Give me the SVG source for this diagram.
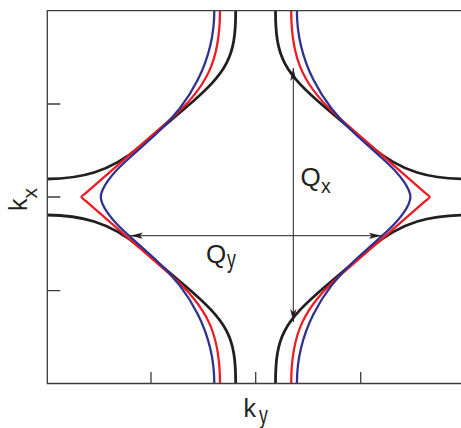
<svg xmlns="http://www.w3.org/2000/svg" width="461" height="428" viewBox="0 0 461 428">
<style>
.frame{fill:none;stroke:#3c3c3c;stroke-width:1.3}
.curve{fill:none;stroke-linejoin:round;stroke-linecap:butt}
.blk{stroke:#231f20;stroke-width:2.8}
.red{stroke:#ed1c24;stroke-width:2.3}
.blu{stroke:#2e3192;stroke-width:2.3}
.arr{fill:none;stroke:#231f20;stroke-width:1;marker-start:url(#ah);marker-end:url(#ah)}
.lbl{font-family:"Liberation Sans",Arial,Helvetica,sans-serif;fill:#231f20}
</style>
<defs>
<marker id="ah" viewBox="0 0 13 8" refX="13" refY="4" markerWidth="13" markerHeight="8" markerUnits="userSpaceOnUse" orient="auto-start-reverse">
<path d="M13,4 L0,0.9 L3.2,4 L0,7.1 Z" fill="#231f20"/>
</marker>
<clipPath id="plot"><rect x="47.3" y="10.7" width="420" height="372.8"/></clipPath>
<path id="bq" d="M235.7,8 L235.7,10.7 C235.7,57 228.1,71.7 185,108.3 L140,146.5 C109.4,172.5 80.2,179 44,179"/>
<path id="rq" d="M220,8 L220,10.7 C220,59.8 207.5,87.1 170,119.7 L86,192.76 C83.5,194.9 81.5,196.2 81.5,197"/>
<path id="uq" d="M214.3,8 L214.3,10.7 C214.3,60.7 190,103.5 155,135 L125,162 C110.6,175 100.8,189 100.8,197"/>
</defs>
<rect width="461" height="428" fill="#ffffff"/>
<g id="curves" class="curve" clip-path="url(#plot)">
<g id="black-contour" class="blk">
<use href="#bq"/>
<use href="#bq" transform="translate(511.2,0) scale(-1,1)"/>
<use href="#bq" transform="translate(0,394) scale(1,-1)"/>
<use href="#bq" transform="translate(511.2,394) scale(-1,-1)"/>
</g>
<g id="red-contour" class="red">
<use href="#rq"/>
<use href="#rq" transform="translate(511.2,0) scale(-1,1)"/>
<use href="#rq" transform="translate(0,394) scale(1,-1)"/>
<use href="#rq" transform="translate(511.2,394) scale(-1,-1)"/>
</g>
<g id="blue-contour" class="blu">
<use href="#uq"/>
<use href="#uq" transform="translate(511.2,0) scale(-1,1)"/>
<use href="#uq" transform="translate(0,394) scale(1,-1)"/>
<use href="#uq" transform="translate(511.2,394) scale(-1,-1)"/>
</g>
</g>
<g id="frame" class="frame">
<path d="M461,10.7 H47.3 V383.5 H461"/>
<path d="M47.3,104 h13 M47.3,197 h13 M47.3,290.7 h13"/>
<path d="M151,383.5 v-11.5 M255.7,383.5 v-11.5 M360.7,383.5 v-11.5"/>
</g>
<g id="connectors">
<path id="Qx-arrow" class="arr" d="M293.3,68 L293.3,322"/>
<path id="Qy-arrow" class="arr" d="M130,235.7 L381.7,235.7"/>
</g>
<g id="labels" class="lbl">
<g id="label-Qx"><text x="300.5" y="185.7" font-size="26">Q</text><text x="321" y="193.3" font-size="19.5">x</text></g>
<g id="label-Qy"><text x="206" y="263" font-size="26">Q</text><text transform="translate(227,267.5) scale(0.68,1)" font-size="26">y</text></g>
<g id="label-ky"><text x="243.4" y="416.7" font-size="25">k</text><text transform="translate(259,423.5) scale(0.68,1)" font-size="26">y</text></g>
<g id="label-kx"><text transform="translate(27.3,211) rotate(-90)" font-size="25">k</text><text transform="translate(36.7,198.5) rotate(-90)" font-size="21">x</text></g>
</g>
</svg>
